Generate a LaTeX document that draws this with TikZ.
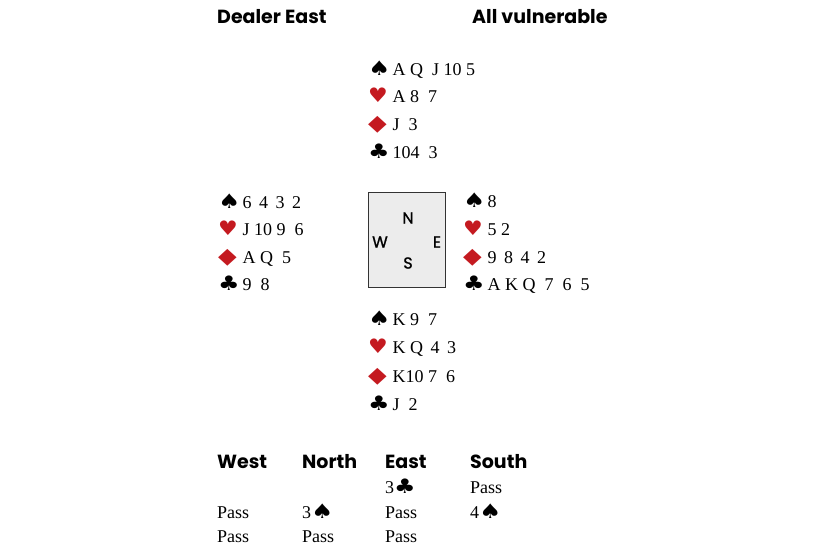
\documentclass[tikz,border=0pt]{standalone}
\usepackage{fontspec}
\usepackage{graphicx}
\setmainfont{Liberation Serif}
\newfontfamily\headfont{Poppins}
\newfontfamily\rumbofont{Poppins}[FakeBold=1.2]
\newfontfamily\suitfont{DejaVu Sans}
\definecolor{rojopalo}{HTML}{C41A20}
\definecolor{grismesa}{HTML}{ECECEC}
\newcommand{\pica}{\scalebox{1.25}[1]{\suitfont\fontsize{20}{20}\selectfont\char"2660}}
\newcommand{\cora}{\scalebox{1.1}[1]{\suitfont\fontsize{20}{20}\selectfont\color{rojopalo}\char"2665}}
\newcommand{\diam}{\scalebox{1.1}[1]{\suitfont\fontsize{22}{20}\selectfont\color{rojopalo}\char"25C6}}
\newcommand{\trebol}{\scalebox{1.2}[1]{\suitfont\fontsize{20}{20}\selectfont\char"2663}}
\newcommand{\palo}[1]{\makebox[24.5pt][l]{#1}}
\tikzstyle{titulo} = [anchor=base west, inner sep=0pt, font=\headfont\bfseries\fontsize{19}{20}\selectfont]
\tikzstyle{carta} = [anchor=base west, inner sep=0pt, font=\fontsize{18}{20}\selectfont]
\tikzstyle{mesa} = [draw=black!80, fill=grismesa, thick, minimum width=77pt, minimum height=95pt, inner sep=0pt]
\tikzstyle{rumbo} = [inner sep=0pt, font=\rumbofont\fontsize{16}{16}\selectfont]

\begin{document}
\begin{tikzpicture}[x=1pt,y=-1pt]
		\useasboundingbox (0,0) rectangle (830,550);
		% cabecera
		\node[titulo] (dealer) at (217,23) {Dealer East};
		\node[titulo] (vul) at (472,23) {All vulnerable};
		% norte
		\node[carta] (n1) at (368,75) {\palo{\pica}A Q\ \ J 10 5};
		\node[carta] (n2) at (368,102) {\palo{\cora}A 8\ \ 7};
		\node[carta] (n3) at (368,130) {\palo{\diam}J\ \ 3};
		\node[carta] (n4) at (368,158) {\palo{\trebol}104\ \ 3};
		% oeste
		\node[carta] (o1) at (218,208) {\palo{\pica}6 \,4 \,3 \,2};
		\node[carta] (o2) at (218,235) {\palo{\cora}J 10 9\ \ 6};
		\node[carta] (o3) at (218,263) {\palo{\diam}A Q\ \ 5};
		\node[carta] (o4) at (218,290) {\palo{\trebol}9\ \ 8};
		% mesa
		\node[mesa] (mesa) at (407,239.5) {};
		\node[rumbo] (N) at (408,218) {N};
		\node[rumbo] (W) at (380,242) {W};
		\node[rumbo] (E) at (437,242) {E};
		\node[rumbo] (S) at (408,263) {S};
		% este
		\node[carta] (e1) at (463,207) {\palo{\pica}8};
		\node[carta] (e2) at (463,235) {\palo{\cora}5 2};
		\node[carta] (e3) at (463,263) {\palo{\diam}9 \,8 \,4 \,2};
		\node[carta] (e4) at (463,290) {\palo{\trebol}A K Q \ 7 \ 6 \ 5};
		% sur
		\node[carta] (s1) at (368,325) {\palo{\pica}K 9\ \ 7};
		\node[carta] (s2) at (368,353) {\palo{\cora}K Q \,4 \,3};
		\node[carta] (s3) at (368,382) {\palo{\diam}K10 7\ \ 6};
		\node[carta] (s4) at (368,410) {\palo{\trebol}J\ \ 2};
		% subasta
		\node[titulo] (west) at (217,468) {West};
		\node[titulo] (north) at (302,468) {North};
		\node[titulo] (east) at (385,468) {East};
		\node[titulo] (south) at (470,468) {South};
		\node[carta] (b3) at (385,493) {3\trebol};
		\node[carta] (b4) at (470,493) {Pass};
		\node[carta] (b5) at (217,518) {Pass};
		\node[carta] (b6) at (302,518) {3\pica};
		\node[carta] (b7) at (385,518) {Pass};
		\node[carta] (b8) at (470,518) {4\pica};
		\node[carta] (b9) at (217,542) {Pass};
		\node[carta] (b10) at (302,542) {Pass};
		\node[carta] (b11) at (385,542) {Pass};
	\end{tikzpicture}
\end{document}
